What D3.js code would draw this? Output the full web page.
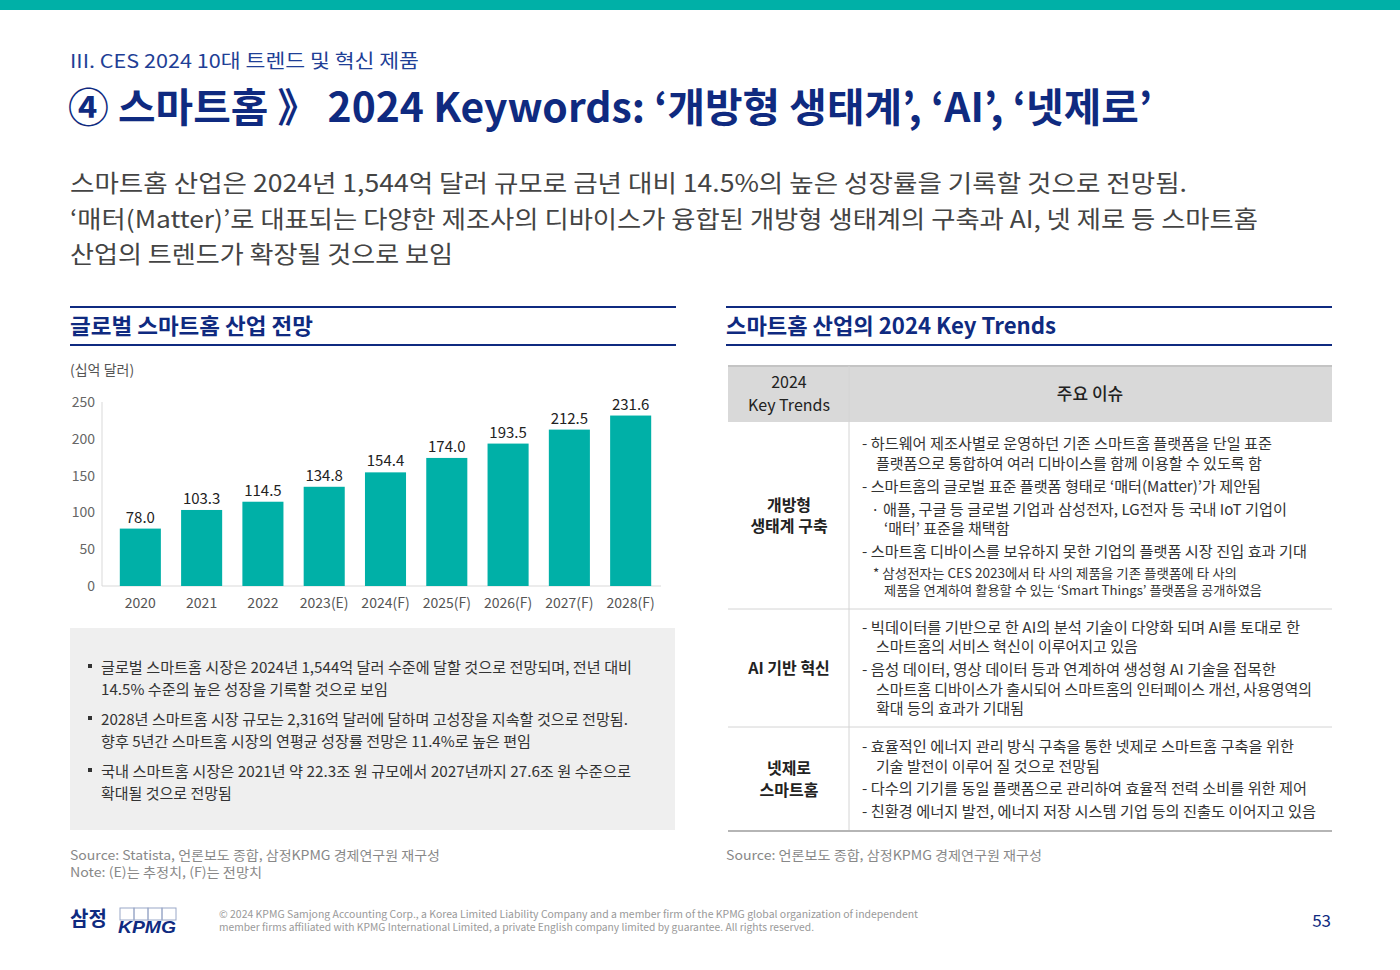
<!DOCTYPE html>
<html>
<head>
<meta charset="utf-8">
<script src="https://cdn.jsdelivr.net/npm/d3@7"></script>
<style>
  body { margin: 0; background: #fff; }
  svg text { font-family: "Noto Sans CJK KR", "Noto Sans", sans-serif; }
</style>
</head>
<body>
<div class="content"></div>
<script>
var years = ['2020', '2021', '2022', '2023(E)', '2024(F)', '2025(F)', '2026(F)', '2027(F)', '2028(F)']
var values = [78.0, 103.3, 114.5, 134.8, 154.4, 174.0, 193.5, 212.5, 231.6]
var yTicks = [0, 50, 100, 150, 200, 250]

var paragraph = [
    ['스마트홈 산업은 2024년 1,544억 달러 규모로 금년 대비 14.5%의 높은 성장률을 기록할 것으로 전망됨.', 1187],
    ['‘매터(Matter)’로 대표되는 다양한 제조사의 디바이스가 융합된 개방형 생태계의 구축과 AI, 넷 제로 등 스마트홈', 1258],
    ['산업의 트렌드가 확장될 것으로 보임', 453]
]

var bullets = [
    ['글로벌 스마트홈 시장은 2024년 1,544억 달러 수준에 달할 것으로 전망되며, 전년 대비', 632, true],
    ['14.5% 수준의 높은 성장을 기록할 것으로 보임', 388, false],
    ['2028년 스마트홈 시장 규모는 2,316억 달러에 달하며 고성장을 지속할 것으로 전망됨.', 628, true],
    ['향후 5년간 스마트홈 시장의 연평균 성장률 전망은 11.4%로 높은 편임', 531, false],
    ['국내 스마트홈 시장은 2021년 약 22.3조 원 규모에서 2027년까지 27.6조 원 수준으로', 631, true],
    ['확대될 것으로 전망됨', 232, false]
]

var trendRows = [
    { label: ['개방형', '생태계 구축'], top: 422, bottom: 609, lines: [
        ['- 하드웨어 제조사별로 운영하던 기존 스마트홈 플랫폼을 단일 표준', 862, 1272, 449, 15],
        ['플랫폼으로 통합하여 여러 디바이스를 함께 이용할 수 있도록 함', 876, 1262, 469, 15],
        ['- 스마트홈의 글로벌 표준 플랫폼 형태로 ‘매터(Matter)’가 제안됨', 862, 1261, 492, 15],
        ['· 애플, 구글 등 글로벌 기업과 삼성전자, LG전자 등 국내 IoT 기업이', 871, 1287, 515, 15],
        ['‘매터’ 표준을 채택함', 884, 1009, 534, 15],
        ['- 스마트홈 디바이스를 보유하지 못한 기업의 플랫폼 시장 진입 효과 기대', 862, 1307, 557, 15],
        ['* 삼성전자는 CES 2023에서 타 사의 제품을 기존 플랫폼에 타 사의', 873, 1237, 578, 13],
        ['제품을 연계하여 활용할 수 있는 ‘Smart Things’ 플랫폼을 공개하였음', 884, 1262, 595, 13]
    ]},
    { label: ['AI 기반 혁신'], top: 609, bottom: 727, lines: [
        ['- 빅데이터를 기반으로 한 AI의 분석 기술이 다양화 되며 AI를 토대로 한', 862, 1300, 633, 15],
        ['스마트홈의 서비스 혁신이 이루어지고 있음', 876, 1137, 652, 15],
        ['- 음성 데이터, 영상 데이터 등과 연계하여 생성형 AI 기술을 접목한', 862, 1276, 675, 15],
        ['스마트홈 디바이스가 출시되어 스마트홈의 인터페이스 개선, 사용영역의', 876, 1312, 695, 15],
        ['확대 등의 효과가 기대됨', 876, 1024, 714, 15]
    ]},
    { label: ['넷제로', '스마트홈'], top: 727, bottom: 831, lines: [
        ['- 효율적인 에너지 관리 방식 구축을 통한 넷제로 스마트홈 구축을 위한', 862, 1294, 752, 15],
        ['기술 발전이 이루어 질 것으로 전망됨', 876, 1100, 772, 15],
        ['- 다수의 기기를 동일 플랫폼으로 관리하여 효율적 전력 소비를 위한 제어', 862, 1307, 794, 15],
        ['- 친환경 에너지 발전, 에너지 저장 시스템 기업 등의 진출도 이어지고 있음', 862, 1316, 817, 15]
    ]}
]

var navy = '#0f2a80'
var teal = '#00b0a7'

var svg = d3.select('.content').append('svg')
    .attr('width', 1400)
    .attr('height', 970)

// squeeze a text line to the width seen in the picture
function fit(sel, w) {
    sel.each(function() {
        var n = this.getComputedTextLength()
        if (Math.abs(n - w) > 2) {
            d3.select(this).attr('textLength', w).attr('lengthAdjust', 'spacingAndGlyphs')
        }
    })
    return sel
}

function line(x, y, text, size, color, weight) {
    return svg.append('text')
        .attr('x', x)
        .attr('y', y)
        .style('font-size', size + 'px')
        .style('fill', color)
        .style('font-weight', weight || 400)
        .text(text)
}

// header
svg.append('rect').attr('x', 0).attr('y', 0).attr('width', 1400).attr('height', 10).attr('fill', teal)
fit(line(70, 68, 'III. CES 2024 10대 트렌드 및 혁신 제품', 19, '#1f3f96'), 349)
fit(line(68, 122, '④ 스마트홈 》 2024 Keywords: ‘개방형 생태계’, ‘AI’, ‘넷제로’', 40, navy, 700), 1084)

paragraph.forEach(function(p, i) {
    fit(line(70, 192 + i * 35.5, p[0], 24, '#444'), p[1] - 70)
})

// section headings
function section(x0, x1, title, w) {
    svg.append('line').attr('x1', x0).attr('x2', x1).attr('y1', 307).attr('y2', 307)
        .attr('stroke', navy).attr('stroke-width', 2)
    svg.append('line').attr('x1', x0).attr('x2', x1).attr('y1', 345).attr('y2', 345)
        .attr('stroke', navy).attr('stroke-width', 2)
    fit(line(x0, 334, title, 22, navy, 700), w)
}
section(70, 676, '글로벌 스마트홈 산업 전망', 243)
section(726, 1332, '스마트홈 산업의 2024 Key Trends', 330)

// bar chart
fit(line(70, 375, '(십억 달러)', 14, '#555'), 64)

var x = d3.scaleBand()
    .domain(years)
    .range([110, 661])
    .paddingInner(0.33)
    .paddingOuter(0.16)

var y = d3.scaleLinear()
    .domain([0, 250])
    .range([586, 402])

var chart = svg.append('g').attr('class', 'chart')

chart.append('line')
    .attr('x1', 102).attr('x2', 102)
    .attr('y1', y(250)).attr('y2', y(0))
    .attr('stroke', '#d9d9d9')
chart.append('line')
    .attr('x1', 102).attr('x2', 661)
    .attr('y1', y(0)).attr('y2', y(0))
    .attr('stroke', '#d9d9d9')

chart.selectAll('.ytick')
    .data(yTicks)
    .enter().append('text')
    .attr('class', 'ytick')
    .attr('x', 95)
    .attr('y', function(d) { return y(d) + 5 })
    .attr('text-anchor', 'end')
    .style('font-size', '14px')
    .style('fill', '#666')
    .text(function(d) { return d })

chart.selectAll('.bar')
    .data(values)
    .enter().append('rect')
    .attr('class', 'bar')
    .attr('x', function(d, i) { return x(years[i]) })
    .attr('width', x.bandwidth())
    .attr('y', function(d) { return y(d) })
    .attr('height', function(d) { return y(0) - y(d) })
    .attr('fill', teal)

chart.selectAll('.val')
    .data(values)
    .enter().append('text')
    .attr('class', 'val')
    .attr('x', function(d, i) { return x(years[i]) + x.bandwidth() / 2 })
    .attr('y', function(d) { return y(d) - 6 })
    .attr('text-anchor', 'middle')
    .style('font-size', '15px')
    .style('fill', '#222')
    .text(function(d) { return d.toFixed(1) })

chart.selectAll('.xlab')
    .data(years)
    .enter().append('text')
    .attr('class', 'xlab')
    .attr('x', function(d) { return x(d) + x.bandwidth() / 2 })
    .attr('y', 608)
    .attr('text-anchor', 'middle')
    .style('font-size', '14px')
    .style('fill', '#555')
    .text(function(d) { return d })
    .each(function() {
        var n = this.getComputedTextLength()
        if (n > 56) d3.select(this).attr('textLength', 56).attr('lengthAdjust', 'spacingAndGlyphs')
    })

// bullet box
svg.append('rect').attr('x', 70).attr('y', 628).attr('width', 605).attr('height', 202).attr('fill', '#efefef')
var by = [673, 695, 725, 747, 777, 799]
bullets.forEach(function(b, i) {
    if (b[2]) {
        svg.append('rect').attr('x', 88).attr('y', by[i] - 9).attr('width', 4).attr('height', 4).attr('fill', '#333')
    }
    fit(line(101, by[i], b[0], 15, '#333'), b[1] - 101)
})

fit(line(70, 860, 'Source: Statista, 언론보도 종합, 삼정KPMG 경제연구원 재구성', 13, '#888'), 370)
fit(line(70, 877, 'Note: (E)는 추정치, (F)는 전망치', 13, '#888'), 192)

// key trends table
var table = svg.append('g').attr('class', 'table')
table.append('rect').attr('x', 728).attr('y', 366).attr('width', 604).attr('height', 56).attr('fill', '#d9d9d9')
table.append('line').attr('x1', 728).attr('x2', 1332).attr('y1', 366).attr('y2', 366)
    .attr('stroke', '#c4c4c4').attr('stroke-width', 2)
table.append('line').attr('x1', 849).attr('x2', 849).attr('y1', 366).attr('y2', 831)
    .attr('stroke', '#d4d4d4').attr('stroke-width', 1)

var hd = table.append('g')
hd.append('text').attr('x', 789).attr('y', 388).attr('text-anchor', 'middle')
    .style('font-size', '16px').style('fill', '#222').text('2024')
hd.append('text').attr('x', 789).attr('y', 411).attr('text-anchor', 'middle')
    .style('font-size', '16px').style('fill', '#222').text('Key Trends')
hd.append('text').attr('x', 1090).attr('y', 400).attr('text-anchor', 'middle')
    .style('font-size', '17px').style('font-weight', 500).style('fill', '#222').text('주요 이슈')

trendRows.forEach(function(r, i) {
    var last = i === trendRows.length - 1
    table.append('line').attr('x1', 728).attr('x2', 1332).attr('y1', r.bottom).attr('y2', r.bottom)
        .attr('stroke', last ? '#b5b5b5' : '#d4d4d4').attr('stroke-width', last ? 2 : 1)
    var mid = (r.top + r.bottom) / 2
    r.label.forEach(function(t, j) {
        table.append('text')
            .attr('x', 789)
            .attr('y', mid + 6 + (j - (r.label.length - 1) / 2) * 21.5)
            .attr('text-anchor', 'middle')
            .style('font-size', '16px')
            .style('font-weight', 700)
            .style('fill', '#222')
            .text(t)
    })
    r.lines.forEach(function(l) {
        var t = table.append('text')
            .attr('x', l[1]).attr('y', l[3])
            .style('font-size', l[4] + 'px')
            .style('fill', '#333')
            .text(l[0])
        fit(t, l[2] - l[1])
    })
})

fit(line(726, 860, 'Source: 언론보도 종합, 삼정KPMG 경제연구원 재구성', 13, '#888'), 316)

// footer
line(70, 926, '삼정', 20, navy, 700)
var logo = svg.append('g')
d3.range(4).forEach(function(i) {
    logo.append('rect').attr('x', 120 + i * 14).attr('y', 908).attr('width', 14).attr('height', 12)
        .attr('fill', 'none').attr('stroke', '#9aa8c8').attr('stroke-width', 1)
})
logo.append('text').attr('x', 118).attr('y', 933)
    .style('font-size', '17px').style('font-weight', 700).style('font-style', 'italic')
    .style('fill', navy).style('font-family', 'Liberation Sans, Arial, sans-serif')
    .attr('textLength', 58).attr('lengthAdjust', 'spacingAndGlyphs')
    .text('KPMG')

fit(line(219, 918, '© 2024 KPMG Samjong Accounting Corp., a Korea Limited Liability Company and a member firm of the KPMG global organization of independent', 10, '#999'), 699)
fit(line(219, 931, 'member firms affiliated with KPMG International Limited, a private English company limited by guarantee. All rights reserved.', 10, '#999'), 595)
line(1331, 927, '53', 17, navy).attr('text-anchor', 'end')
</script>
</body>
</html>
